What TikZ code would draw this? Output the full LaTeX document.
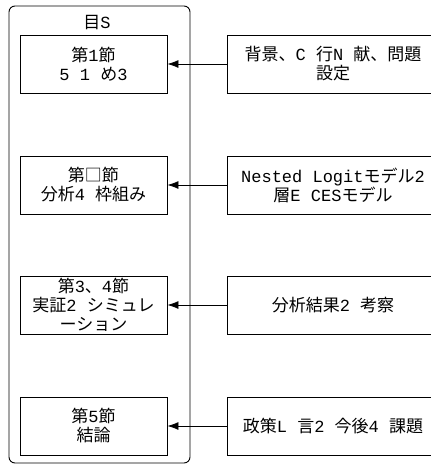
\documentclass[tikz,border=0pt]{standalone}
\usepackage{fontspec}
\setmainfont{Liberation Mono}
\newfontfamily\cjk{Noto Sans CJK JP}
\newcommand\J[1]{{\cjk #1}}
\usetikzlibrary{arrows.meta}
\tikzset{
  lbox/.style={draw, line width=0.9pt, minimum width=147pt, minimum height=58pt, align=center, inner sep=0pt},
  rbox/.style={draw, line width=0.9pt, minimum width=212pt, minimum height=58pt, align=center, inner sep=0pt},
  conn/.style={line width=0.8pt, -{Latex[length=11pt,width=8pt]}},
}
\begin{document}
\begin{tikzpicture}[x=1pt,y=-1pt,font=\fontsize{17}{19}\selectfont]
\useasboundingbox (0,0) rectangle (431,466);
\clip (0,0) rectangle (431,466);
\node[draw, line width=0.9pt, rounded corners=6pt, minimum width=181pt, minimum height=457pt, inner sep=0pt] (outer) at (99.5,234.5) {};
\node (title) at (97,23) {\J{目}S};
\node[lbox] (l1) at (93.5,64) {\J{第}1\J{節}\\5 1 \J{め}3};
\node[lbox] (l2) at (93.5,185) {\J{第□節}\\\J{分析}4 \J{枠組み}};
\node[lbox] (l3) at (93.5,305) {\J{第}3\J{、}4\J{節}\\\J{実証}2 \J{シミュレ}\\\J{ーション}};
\node[lbox] (l4) at (93.5,426) {\J{第}5\J{節}\\\J{結論}};
\node[rbox] (r1) at (333,64) {\J{背景、}C \J{行}N \J{献、問題}\\\J{設定}};
\node[rbox] (r2) at (333,185) {Nested Logit\J{モデル}2\\\J{層}E CES\J{モデル}};
\node[rbox] (r3) at (333,305) {\J{分析結果}2 \J{考察}};
\node[rbox] (r4) at (333,426) {\J{政策}L \J{言}2 \J{今後}4 \J{課題}};
\draw[conn] (r1) -- (l1);
\draw[conn] (r2) -- (l2);
\draw[conn] (r3) -- (l3);
\draw[conn] (r4) -- (l4);
\end{tikzpicture}
\end{document}
